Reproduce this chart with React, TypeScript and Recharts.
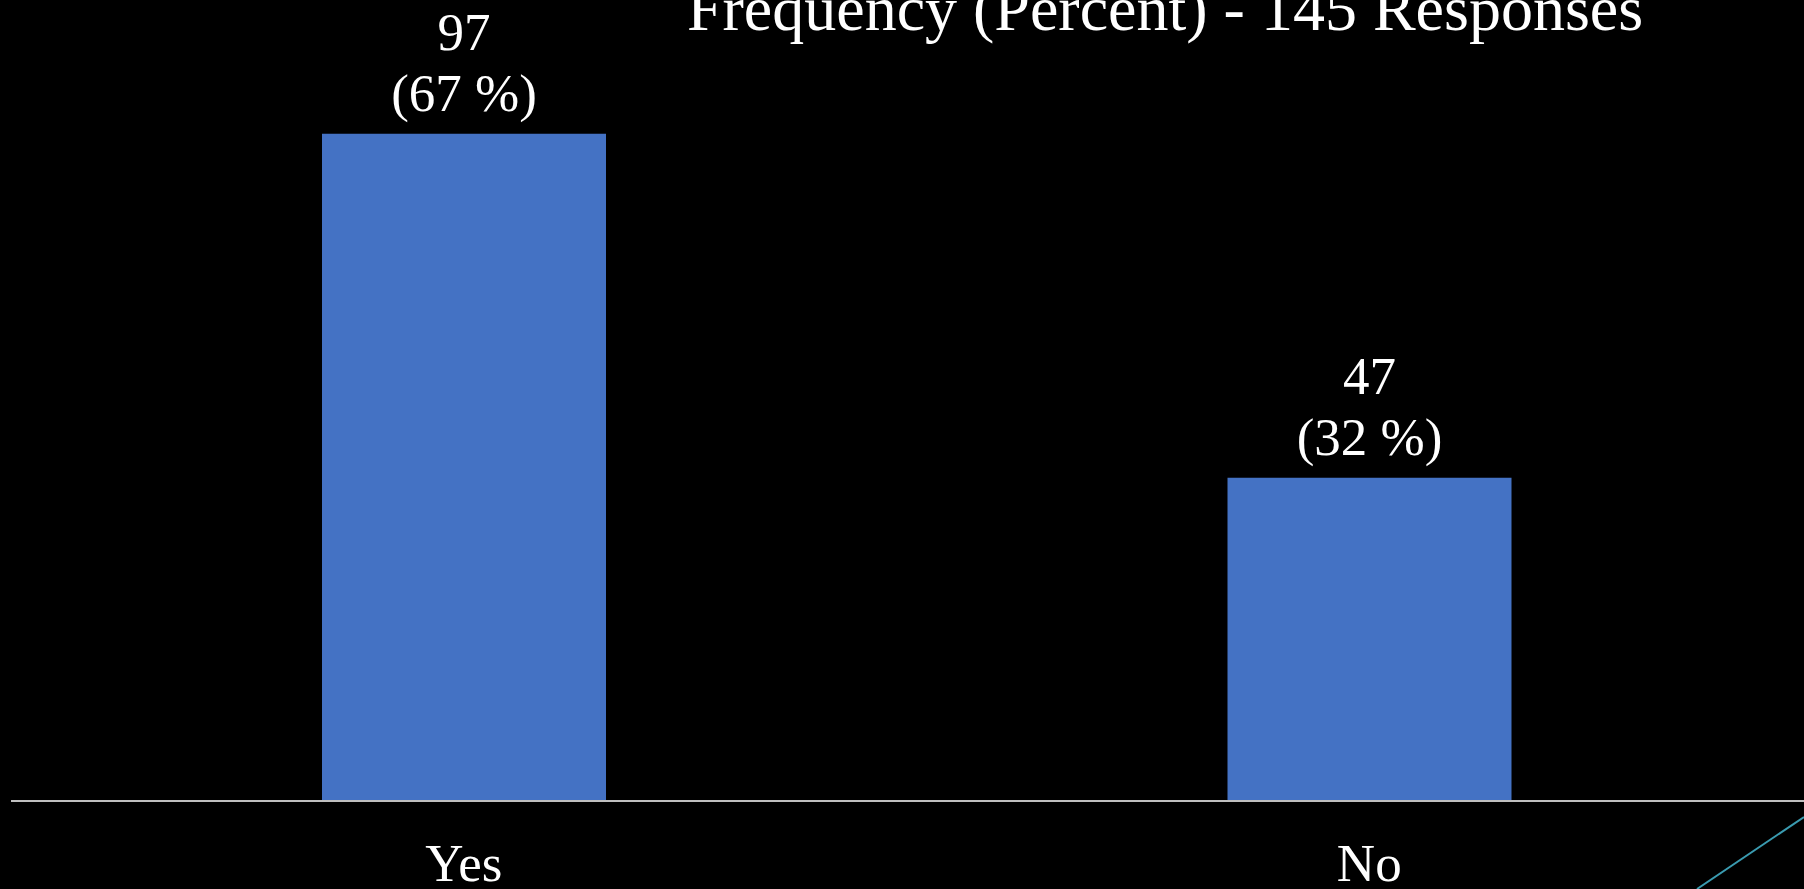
import React from 'react';
import { BarChart, Bar, XAxis, YAxis, LabelList } from 'recharts';

// survey answers
const answers = ['Yes', 'No'];
const counts = [97, 47];
const percents = [67, 32];

const title = 'Frequency (Percent) - 145 Responses';
const serif = '"Liberation Serif", "Times New Roman", serif';

const data = answers.map((answer, i) => ({
  answer,
  count: counts[i],
  percent: percents[i],
}));

// two-line label above each bar: count, then "(pct %)"
const CountLabel = (props: any) => {
  const { x, y, width, index, value } = props;
  const cx = Number(x) + Number(width) / 2;
  const top = Number(y);
  return (
    <g>
      <text x={cx} y={top - 84} textAnchor="middle" fill="#ffffff" fontSize={53} fontFamily={serif}>
        {value}
      </text>
      <text x={cx} y={top - 23} textAnchor="middle" fill="#ffffff" fontSize={53} fontFamily={serif}>
        {`(${percents[index]} %)`}
      </text>
    </g>
  );
};

const App = () => {
  return (
    <div
      style={{
        position: 'fixed',
        left: 0,
        top: 0,
        width: 1804,
        height: 889,
        overflow: 'hidden',
        background: '#000000',
      }}
    >
      <BarChart
        width={1830}
        height={889}
        data={data}
        margin={{ top: 113, right: 8, left: 11, bottom: 0 }}
      >
        <XAxis
          dataKey="answer"
          height={88}
          axisLine={{ stroke: '#bfbfbf', strokeWidth: 2 }}
          tickLine={false}
          tickSize={0}
          tickMargin={42}
          tick={{ fill: '#ffffff', fontSize: 53, fontFamily: serif }}
        />
        <YAxis hide domain={[0, 100]} />
        <Bar dataKey="count" fill="#4472c4" barSize={284} isAnimationActive={false}>
          <LabelList dataKey="count" content={<CountLabel />} />
        </Bar>
      </BarChart>
      <svg
        width={1804}
        height={889}
        style={{ position: 'absolute', left: 0, top: 0, pointerEvents: 'none' }}
      >
        <text x={1165} y={30} textAnchor="middle" fill="#ffffff" fontSize={64} fontFamily={serif}>
          {title}
        </text>
        <line x1={1697} y1={889} x2={1804} y2={817} stroke="#3a9bb0" strokeWidth={2} />
      </svg>
    </div>
  );
};

export default App;
